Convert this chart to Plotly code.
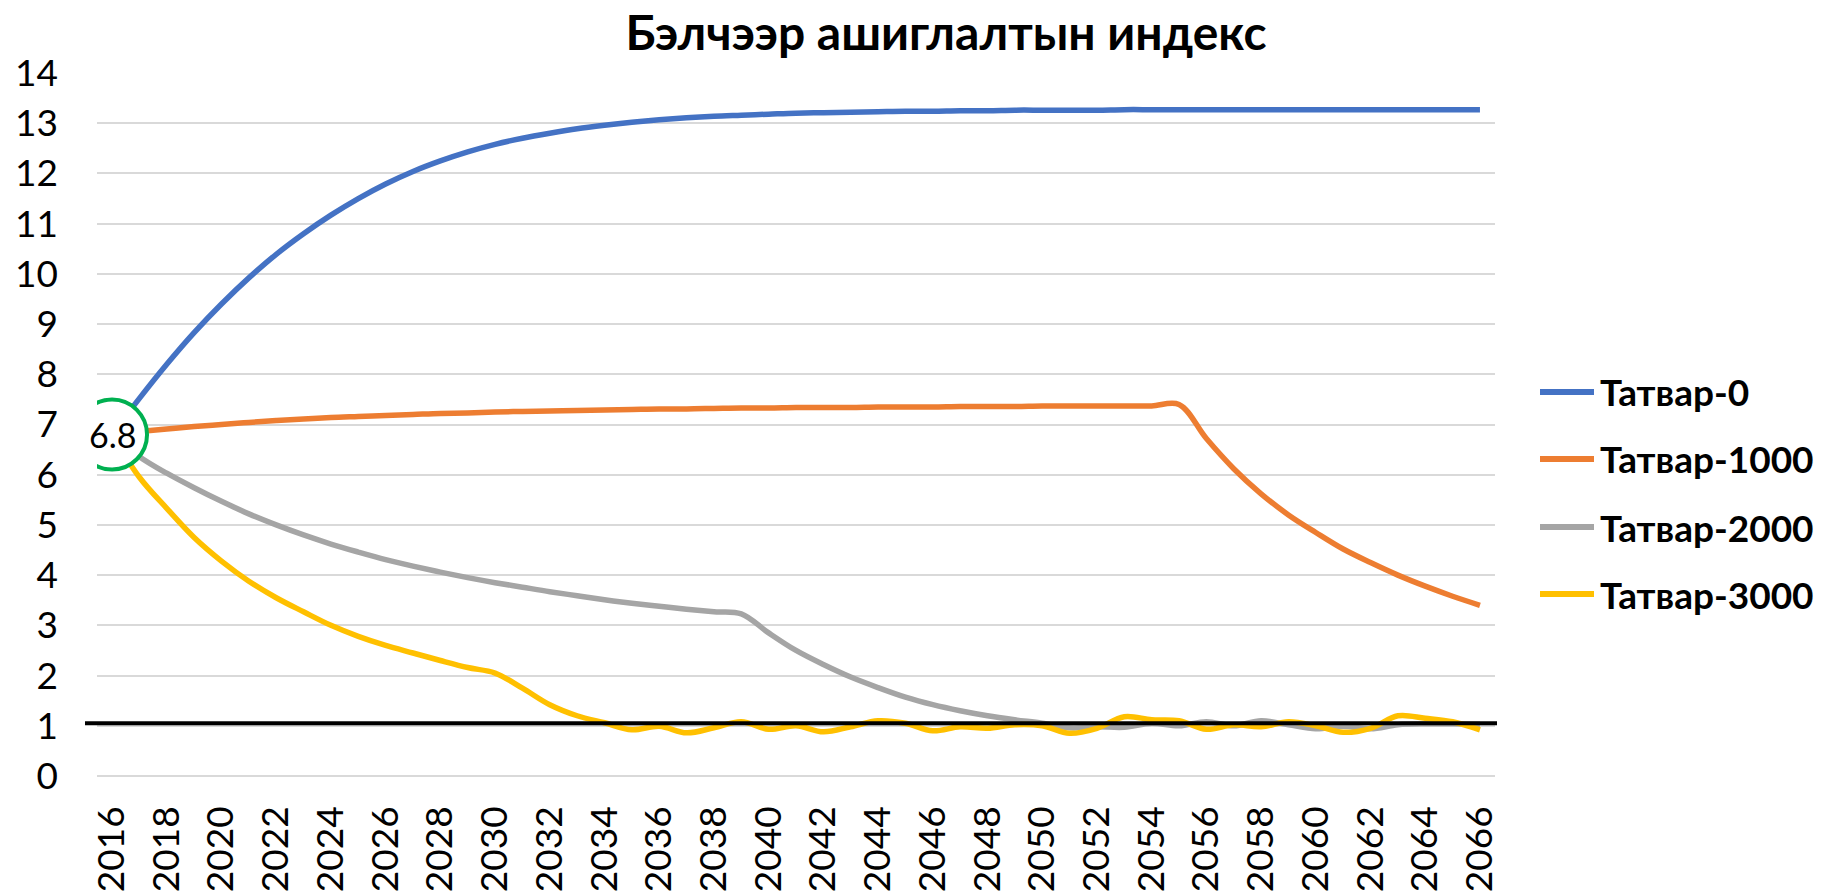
import plotly.graph_objects as go

# ---------------- data ----------------
years = list(range(2016, 2067))

tatvar_0 = [6.8, 7.52, 8.2, 8.83, 9.4, 9.92, 10.39, 10.8, 11.17, 11.5,
            11.79, 12.04, 12.25, 12.43, 12.58, 12.7, 12.8, 12.89, 12.96, 13.02,
            13.07, 13.11, 13.14, 13.16, 13.18, 13.2, 13.21, 13.22, 13.23, 13.24,
            13.24, 13.25, 13.25, 13.26, 13.26, 13.26, 13.26, 13.27, 13.27, 13.27,
            13.27, 13.27, 13.27, 13.27, 13.27, 13.27, 13.27, 13.27, 13.27, 13.27,
            13.27]

tatvar_1000 = [6.8, 6.86, 6.91, 6.96, 7.0, 7.04, 7.08, 7.11, 7.14, 7.16,
               7.18, 7.2, 7.22, 7.23, 7.25, 7.26, 7.27, 7.28, 7.29, 7.3,
               7.31, 7.31, 7.32, 7.33, 7.33, 7.34, 7.34, 7.34, 7.35, 7.35,
               7.35, 7.36, 7.36, 7.36, 7.37, 7.37, 7.37, 7.37, 7.37, 7.4,
               6.72, 6.12, 5.62, 5.2, 4.85, 4.52, 4.25, 4.0, 3.78, 3.58,
               3.4]

tatvar_2000 = [6.8, 6.36, 6.03, 5.74, 5.47, 5.22, 5.0, 4.8, 4.62, 4.46,
               4.31, 4.18, 4.06, 3.95, 3.85, 3.76, 3.67, 3.59, 3.51, 3.44,
               3.38, 3.32, 3.27, 3.23, 2.85, 2.5, 2.22, 1.97, 1.76, 1.57,
               1.42, 1.3, 1.2, 1.12, 1.05, 0.96, 0.98, 0.97, 1.05, 1.0,
               1.08, 1.0, 1.1, 1.02, 0.94, 0.99, 0.94, 1.02, 1.04, 1.04,
               1.03]

tatvar_3000 = [6.8, 5.95, 5.33, 4.75, 4.28, 3.88, 3.55, 3.27, 3.0, 2.78,
               2.6, 2.45, 2.3, 2.16, 2.05, 1.75, 1.42, 1.2, 1.06, 0.92,
               0.99, 0.86, 0.96, 1.08, 0.93, 1.0, 0.88, 0.98, 1.1, 1.05,
               0.9, 0.98, 0.95, 1.02, 1.0, 0.85, 0.95, 1.18, 1.12, 1.1,
               0.93, 1.02, 0.98, 1.08, 1.0, 0.87, 0.95, 1.2, 1.15, 1.08,
               0.92]

series_names = ["Татвар-0", "Татвар-1000", "Татвар-2000", "Татвар-3000"]
series_values = [tatvar_0, tatvar_1000, tatvar_2000, tatvar_3000]
series_colors = ["#4472C4", "#ED7D31", "#A5A5A5", "#FFC000"]

threshold = 1.05
start_label = "6.8"
start_value = 6.8
title_text = "Бэлчээр ашиглалтын индекс"

# ---------------- layout geometry (pixels) ----------------
W, H = 1832, 891
PL, PR, PT, PB = 97, 1495, 73, 776   # plot area edges


def px_x(p):
    return (p - PL) / (PR - PL)


def px_y(p):
    return (PB - p) / (PB - PT)


FONT = "Lato"

fig = go.Figure()
for name, vals, col in zip(series_names, series_values, series_colors):
    fig.add_trace(go.Scatter(
        x=years, y=vals, mode="lines", name=name,
        line=dict(color=col, width=5.5, shape="spline", smoothing=1.0),
        showlegend=False, hoverinfo="x+y+name",
    ))

shapes = []
annotations = []

# threshold line
shapes.append(dict(type="line", xref="paper", yref="paper",
                   x0=px_x(85), x1=px_x(1497),
                   y0=threshold / 14, y1=threshold / 14,
                   line=dict(color="black", width=4), layer="above"))

# start circle
shapes.append(dict(type="circle", xref="x", yref="y",
                   xsizemode="pixel", ysizemode="pixel",
                   xanchor=years[0], yanchor=start_value,
                   x0=-35, x1=35, y0=-35, y1=35,
                   fillcolor="white", line=dict(color="#00B050", width=4),
                   layer="above"))
annotations.append(dict(x=years[0], y=start_value, xref="x", yref="y",
                        text=start_label, showarrow=False,
                        font=dict(family=FONT, size=34, color="black"),
                        xanchor="center", yanchor="middle"))

# manual legend
legend_y_px = [392, 459, 527, 594]
for name, col, ly in zip(series_names, series_colors, legend_y_px):
    shapes.append(dict(type="line", xref="paper", yref="paper",
                       x0=px_x(1540), x1=px_x(1594),
                       y0=px_y(ly), y1=px_y(ly),
                       line=dict(color=col, width=6)))
    annotations.append(dict(x=px_x(1598), y=px_y(ly), xref="paper", yref="paper",
                            text="<b>" + name + "</b>", showarrow=False,
                            xanchor="left", yanchor="middle",
                            font=dict(family=FONT, size=37, color="black")))

fig.update_layout(
    width=W, height=H,
    margin=dict(l=PL, r=W - PR, t=PT, b=H - PB, pad=0, autoexpand=False),
    paper_bgcolor="white", plot_bgcolor="white",
    title=dict(text="<b>" + title_text + "</b>", x=946 / W, xanchor="center",
               y=1 - 33 / H, yanchor="middle",
               font=dict(family=FONT, size=48, color="black")),
    font=dict(family=FONT, color="black"),
    showlegend=False,
    shapes=shapes,
    annotations=annotations,
    xaxis=dict(range=[2015.45, 2066.55], tickmode="linear", tick0=2016, dtick=2,
               tickangle=-90, tickfont=dict(family=FONT, size=37, color="black"),
               showgrid=False, zeroline=False, showline=False, ticks="",
               ticklabelstandoff=22, automargin=False),
    yaxis=dict(range=[0, 14], tickmode="linear", tick0=0, dtick=1,
               tickfont=dict(family=FONT, size=37, color="black"),
               showgrid=True, gridcolor="#D9D9D9", gridwidth=1.5,
               zeroline=True, zerolinecolor="#D9D9D9", zerolinewidth=1.5,
               showline=False, ticks="", ticklabelstandoff=38, automargin=False),
)

fig.write_html("out.html",
               config={"displayModeBar": False},
               post_script="document.body.style.margin='0';document.body.style.overflow='hidden';")
